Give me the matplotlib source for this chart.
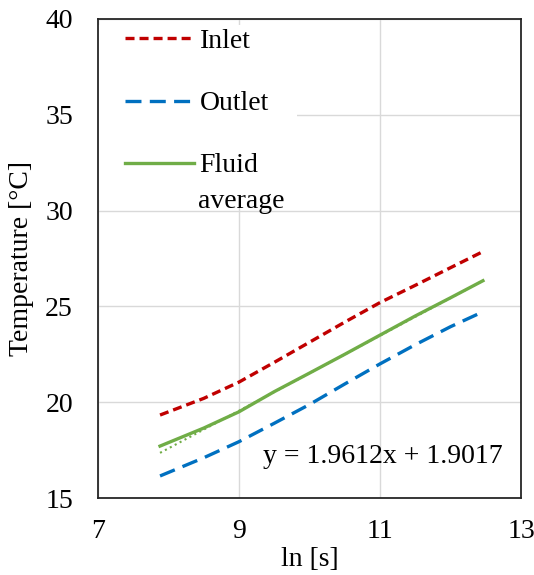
import matplotlib
matplotlib.use("Agg")
import matplotlib.pyplot as plt
from matplotlib.patches import Rectangle

plt.rcParams['font.family'] = ['Liberation Serif', 'DejaVu Serif']
plt.rcParams['lines.scale_dashes'] = False

# values
ln_time = [7.88, 8.5, 9.0, 9.5, 10.0, 10.5, 11.0, 11.5, 12.0, 12.46]
inlet = [19.33, 20.2, 21.05, 22.08, 23.13, 24.18, 25.2, 26.1, 27.02, 27.86]
outlet = [16.15, 17.1, 17.94, 18.9, 19.88, 20.95, 22.0, 23.0, 23.94, 24.72]
fluid = [17.71, 18.65, 19.5, 20.55, 21.52, 22.5, 23.5, 24.5, 25.45, 26.34]

# linear trendline of the fluid average (as printed on the chart)
slope, intercept = 1.9612, 1.9017
fit_x = [ln_time[0], ln_time[-1]]
fit_y = [slope * v + intercept for v in fit_x]

red = '#C00000'
blue = '#0070C0'
green = '#70AD47'

fig = plt.figure(figsize=(5.34, 5.75), dpi=100)
ax = fig.add_axes([98 / 534, 1 - 498 / 575, (521 - 98) / 534, (498 - 19) / 575])

ax.plot(fit_x, fit_y, color=green, lw=1.5, linestyle=(0, (1.5, 2.5)), zorder=2)
ax.plot(ln_time, inlet, color=red, lw=2.4, linestyle=(0, (6.5, 3.6)), label='Inlet', zorder=3)
ax.plot(ln_time, outlet, color=blue, lw=2.4, linestyle=(0, (11.5, 6.0)), label='Outlet', zorder=3)
ax.plot(ln_time, fluid, color=green, lw=2.4, label='Fluid', zorder=3)

ax.set_xlim(7, 13)
ax.set_ylim(15, 40)
ax.set_xticks([7, 9, 11, 13])
ax.set_yticks([15, 20, 25, 30, 35, 40])
ax.grid(True, color='#D9D9D9', lw=1.0)
ax.set_axisbelow(True)
ax.tick_params(length=0, labelsize=20)
ax.tick_params(axis='x', pad=15)
ax.tick_params(axis='y', pad=18)
for sp in ax.spines.values():
    sp.set_color('#262626')
    sp.set_linewidth(1.3)

ax.set_xlabel('ln [s]', fontsize=20, labelpad=2)
ax.set_ylabel('Temperature [°C]', fontsize=20, labelpad=8)

ax.text(12.74, 17.15, 'y = 1.9612x + 1.9017', fontsize=20, ha='right', va='center')

# white legend area hiding the gridlines
ax.add_patch(Rectangle((0, 0.622), 0.47, 0.365, transform=ax.transAxes,
                       facecolor='white', edgecolor='none', zorder=1))

leg = ax.legend(loc='upper left', bbox_to_anchor=(0.04, 1.0), fontsize=20,
                frameon=False, handlelength=2.5, handletextpad=0.2,
                labelspacing=1.32, borderpad=0.35, borderaxespad=0.0)
ax.text(100 / 423, 296 / 479, 'average', fontsize=20, transform=ax.transAxes,
        ha='left', va='center')

fig.savefig('out.png', dpi=100)
